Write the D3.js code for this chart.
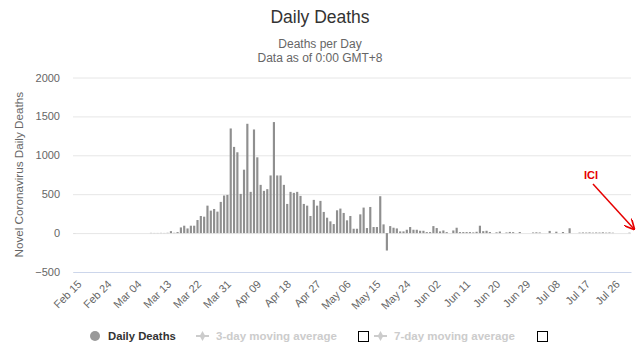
<!DOCTYPE html>
<html>
<head>
<meta charset="utf-8">
<script src="https://cdn.jsdelivr.net/npm/d3@7"></script>
<style>
  body { margin: 0; background: #fff; }
  svg { display: block; font-family: "Liberation Sans", Arial, sans-serif; }
</style>
</head>
<body>
<div id="chart"></div>
<script>
// daily deaths, one value per day from Feb 15 to Jul 31
const deaths = [
  1, 0, 0, 0, 0, 0, 0, 0, 0, 0,
  0, 0, 0, 0, 0, 0, 0, 0, 0, 0,
  0, 0, 0, 3, 2, 2, 3, 2, 4, 25,
  4, 13, 73, 95, 60, 95, 95, 168, 220, 211,
  353, 289, 310, 276, 401, 483, 491, 1345, 1108, 1039,
  504, 815, 1405, 530, 1332, 974, 620, 543, 565, 741,
  1427, 741, 741, 620, 375, 530, 517, 530, 478, 375,
  353, 220, 427, 353, 414, 272, 198, 151, 116, 293,
  315, 259, 164, 220, 56, 56, 241, 328, 65, 336,
  78, 78, 474, 112, -224, 90, 69, 60, 22, 22,
  43, 78, 43, 43, 30, 30, 13, 13, 90, 65,
  22, 34, 13, 0, 34, 69, 13, 13, 13, 13,
  9, 17, 95, 25, 30, 14, 0, 10, 20, 0,
  8, 15, 12, 0, 14, 0, 0, 0, 8, 10,
  8, 0, 0, 28, 0, 18, 0, 14, 0, 62,
  0, 0, 6, 8, 7, 9, 6, 8, 7, 10,
  6, 8, 5, 0, 0, 0, 0, 5
];
const tickLabels = ["Feb 15", "Feb 24", "Mar 04", "Mar 13", "Mar 22", "Mar 31", "Apr 09",
  "Apr 18", "Apr 27", "May 06", "May 15", "May 24", "Jun 02", "Jun 11", "Jun 20",
  "Jun 29", "Jul 08", "Jul 17", "Jul 26"];
const yTicks = [-500, 0, 500, 1000, 1500, 2000];

const fmt = d3.utcFormat("%b %d");
const days = d3.utcDay.range(new Date(Date.UTC(2020, 1, 15)), new Date(Date.UTC(2020, 7, 1))).map(fmt);

const w = 640, h = 364;
const plotLeft = 73, plotRight = 631, plotTop = 77.5, plotBottom = 272;

const svg = d3.select("#chart").append("svg")
  .attr("width", w)
  .attr("height", h);

const x = d3.scaleBand()
  .domain(days)
  .range([plotLeft, plotRight])
  .paddingInner(0.35)
  .paddingOuter(0.15);

const y = d3.scaleLinear()
  .domain([-500, 2000])
  .range([plotBottom, plotTop]);

// titles
svg.append("text")
  .attr("x", w / 2).attr("y", 23)
  .attr("text-anchor", "middle")
  .attr("font-size", "17.5px")
  .attr("fill", "#333")
  .text("Daily Deaths");
svg.append("text")
  .attr("x", w / 2).attr("y", 48)
  .attr("text-anchor", "middle")
  .attr("font-size", "12px")
  .attr("fill", "#666")
  .text("Deaths per Day");
svg.append("text")
  .attr("x", w / 2).attr("y", 62)
  .attr("text-anchor", "middle")
  .attr("font-size", "12px")
  .attr("fill", "#666")
  .text("Data as of 0:00 GMT+8");

// y axis + grid
const yAxis = svg.append("g")
  .attr("transform", "translate(" + plotLeft + ",0)")
  .call(d3.axisLeft(y).tickValues(yTicks).tickFormat(d3.format("d"))
    .tickSize(-(plotRight - plotLeft)).tickPadding(13));
yAxis.select(".domain").remove();
yAxis.selectAll(".tick line").attr("stroke", "#e6e6e6");
yAxis.selectAll(".tick text")
  .attr("font-size", "11px")
  .attr("fill", "#666")
  .attr("font-family", "Liberation Sans, Arial, sans-serif");

svg.append("text")
  .attr("transform", "translate(23," + ((plotTop + plotBottom) / 2) + ") rotate(-90)")
  .attr("text-anchor", "middle")
  .attr("font-size", "11.7px")
  .attr("fill", "#666")
  .text("Novel Coronavirus Daily Deaths");

// bars
svg.append("g")
  .selectAll("rect")
  .data(deaths)
  .enter()
  .append("rect")
  .attr("x", (d, i) => x(days[i]))
  .attr("y", d => y(Math.max(0, d)))
  .attr("width", x.bandwidth())
  .attr("height", d => Math.abs(y(d) - y(0)))
  .attr("fill", "#8f8f8f");

// x axis
const xAxis = svg.append("g")
  .attr("transform", "translate(0," + plotBottom + ")")
  .call(d3.axisBottom(x).tickValues(tickLabels).tickSize(0));
xAxis.select(".domain").attr("stroke", "#ccd6eb");
xAxis.selectAll(".tick text")
  .attr("font-size", "11px")
  .attr("fill", "#666")
  .attr("font-family", "Liberation Sans, Arial, sans-serif")
  .attr("text-anchor", "end")
  .attr("dy", "0.35em")
  .attr("transform", "translate(3,8) rotate(-45)");

// legend
const lg = svg.append("g").attr("transform", "translate(0,336)");
lg.append("circle").attr("cx", 95).attr("cy", 0).attr("r", 5).attr("fill", "#999");
lg.append("text").attr("x", 108).attr("y", 4)
  .attr("font-size", "11.3px").attr("font-weight", "bold").attr("fill", "#333")
  .text("Daily Deaths");

const legendItems = [
  { sym: 196, label: "3-day moving average", box: 358 },
  { sym: 374, label: "7-day moving average", box: 537 }
];
legendItems.forEach(it => {
  lg.append("line").attr("x1", it.sym).attr("x2", it.sym + 13).attr("y1", 0).attr("y2", 0)
    .attr("stroke", "#ccc").attr("stroke-width", 2);
  lg.append("path").attr("d", d3.symbol(d3.symbolDiamond, 28)())
    .attr("transform", "translate(" + (it.sym + 6.5) + ",0)")
    .attr("fill", "#ccc");
  lg.append("text").attr("x", it.sym + 20).attr("y", 4)
    .attr("font-size", "11.5px").attr("font-weight", "bold").attr("fill", "#ccc")
    .text(it.label);
  lg.append("rect").attr("x", it.box + 0.5).attr("y", -4.5).attr("width", 10).attr("height", 10)
    .attr("fill", "#fff").attr("stroke", "#000");
});

// annotation
const red = "#e60000";
svg.append("text").attr("x", 591).attr("y", 179)
  .attr("text-anchor", "middle")
  .attr("font-size", "11px").attr("font-weight", "bold").attr("fill", red)
  .text("ICI");
svg.append("defs").append("marker")
  .attr("id", "arrow").attr("viewBox", "0 0 10 10")
  .attr("refX", 9).attr("refY", 5)
  .attr("markerWidth", 7).attr("markerHeight", 7)
  .attr("orient", "auto")
  .append("path").attr("d", "M0,0 L10,5 L0,10").attr("fill", "none").attr("stroke", red).attr("stroke-width", 1.6);
svg.append("line")
  .attr("x1", 593).attr("y1", 184).attr("x2", 634).attr("y2", 229)
  .attr("stroke", red).attr("stroke-width", 1.5)
  .attr("marker-end", "url(#arrow)");
</script>
</body>
</html>
